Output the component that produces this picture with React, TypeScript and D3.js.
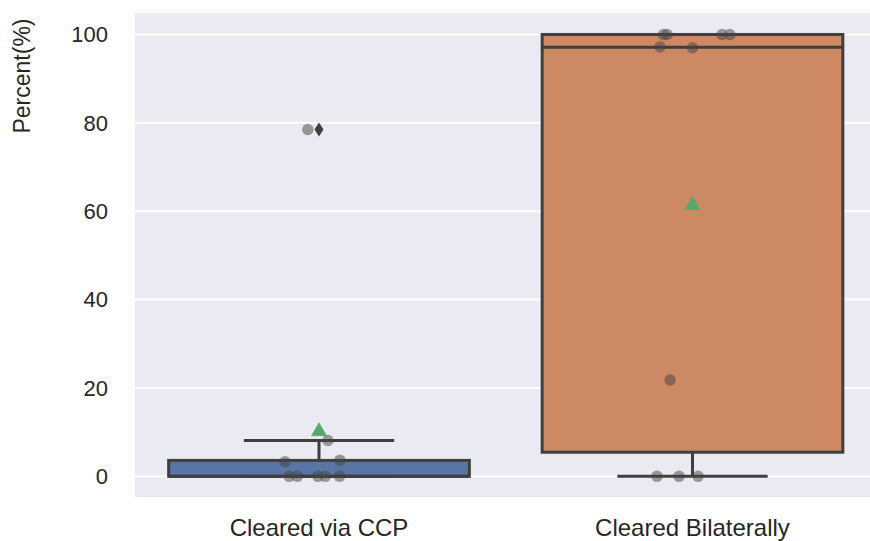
import React from "react";
import * as d3 from "d3";

const categories = ["Cleared via CCP", "Cleared Bilaterally"];
const ccpValues = [0, 0, 0, 0, 0, 3.3, 3.6, 8.1, 78.5];
const ccpJitter = [-0.08, -0.058, -0.003, 0.017, 0.055, -0.091, 0.056, 0.024, -0.03];
const bilatValues = [0, 0, 0, 21.8, 97, 97.2, 100, 100, 100, 100];
const bilatJitter = [-0.095, -0.036, 0.015, -0.06, 0, -0.087, -0.078, -0.068, 0.079, 0.1];
const seriesValues = [ccpValues, bilatValues];
const seriesJitter = [ccpJitter, bilatJitter];
const boxColors = ["#5875a4", "#cc8963"];
const yTicks = [0, 20, 40, 60, 80, 100];
const yLabel = "Percent(%)";

const W = 870;
const H = 541;
const plotLeft = 135;
const plotRight = 870;
const plotTop = 13;
const plotBottom = 497;

function stats(vals: number[]) {
  const s = [...vals].sort((a, b) => a - b);
  const q1 = d3.quantile(s, 0.25)!;
  const med = d3.quantile(s, 0.5)!;
  const q3 = d3.quantile(s, 0.75)!;
  const iqr = q3 - q1;
  const lo = d3.min(s.filter((v) => v >= q1 - 1.5 * iqr))!;
  const hi = d3.max(s.filter((v) => v <= q3 + 1.5 * iqr))!;
  const fliers = s.filter((v) => v < lo || v > hi);
  const mean = d3.mean(s)!;
  return { q1, med, q3, lo, hi, fliers, mean };
}

export default function App() {
  const x = d3.scaleLinear().domain([-0.5, 1.5]).range([132.25, 879.25]);
  const y = d3.scaleLinear().domain([-5, 105]).range([498.4, 12.4]);
  const unit = x(1) - x(0);
  const boxW = 0.805 * unit;
  const lineC = "#3f3f3f";
  const lw = 3;
  const font = "'Liberation Sans', Arial, sans-serif";

  return (
    <svg width={W} height={H} style={{ position: "absolute", left: 0, top: 0, background: "#fff" }}>
      <defs>
        <clipPath id="plotclip">
          <rect x={plotLeft} y={plotTop} width={plotRight - plotLeft} height={plotBottom - plotTop} />
        </clipPath>
      </defs>
      <rect x={plotLeft} y={plotTop} width={plotRight - plotLeft} height={plotBottom - plotTop} fill="#eaeaf2" />
      {yTicks.map((t) => (
        <line key={t} x1={plotLeft} x2={plotRight} y1={y(t)} y2={y(t)} stroke="#ffffff" strokeWidth={2} />
      ))}
      <g clipPath="url(#plotclip)">
        {seriesValues.map((vals, i) => {
          const st = stats(vals);
          const cx = x(i);
          return (
            <g key={i}>
              <line x1={cx} x2={cx} y1={y(st.q3)} y2={y(st.hi)} stroke={lineC} strokeWidth={lw} />
              <line x1={cx} x2={cx} y1={y(st.q1)} y2={y(st.lo)} stroke={lineC} strokeWidth={lw} />
              <line x1={cx - boxW / 4} x2={cx + boxW / 4} y1={y(st.hi)} y2={y(st.hi)} stroke={lineC} strokeWidth={lw} />
              <line x1={cx - boxW / 4} x2={cx + boxW / 4} y1={y(st.lo)} y2={y(st.lo)} stroke={lineC} strokeWidth={lw} />
              <rect
                x={cx - boxW / 2}
                y={y(st.q3)}
                width={boxW}
                height={y(st.q1) - y(st.q3)}
                fill={boxColors[i]}
                stroke={lineC}
                strokeWidth={lw}
              />
              <line x1={cx - boxW / 2} x2={cx + boxW / 2} y1={y(st.med)} y2={y(st.med)} stroke={lineC} strokeWidth={lw} />
              {st.fliers.map((f, k) => (
                <path
                  key={k}
                  d={`M${cx},${y(f) - 7} L${cx + 4.5},${y(f)} L${cx},${y(f) + 7} L${cx - 4.5},${y(f)} Z`}
                  fill={lineC}
                />
              ))}
              <path
                d={d3.symbol().type(d3.symbolTriangle).size(100)()!}
                transform={`translate(${cx},${y(st.mean) + 1})`}
                fill="#55a868"
                stroke="#55a868"
                strokeWidth={0.5}
              />
            </g>
          );
        })}
        {seriesValues.map((vals, i) =>
          vals.map((v, k) => (
            <circle
              key={`${i}-${k}`}
              cx={x(i + seriesJitter[i][k])}
              cy={y(v)}
              r={5.8}
              fill="#444444"
              fillOpacity={0.5}
            />
          ))
        )}
      </g>
      {yTicks.map((t) => (
        <text
          key={t}
          x={108}
          y={y(t)}
          dy="0.35em"
          textAnchor="end"
          fontFamily={font}
          fontSize={22}
          fill="#262626"
        >
          {t}
        </text>
      ))}
      {categories.map((c, i) => (
        <text
          key={c}
          x={x(i)}
          y={536}
          textAnchor="middle"
          fontFamily={font}
          fontSize={24}
          fill="#262626"
        >
          {c}
        </text>
      ))}
      <text
        transform={`translate(30,76) rotate(-90)`}
        textAnchor="middle"
        fontFamily={font}
        fontSize={23}
        fill="#262626"
      >
        {yLabel}
      </text>
    </svg>
  );
}
